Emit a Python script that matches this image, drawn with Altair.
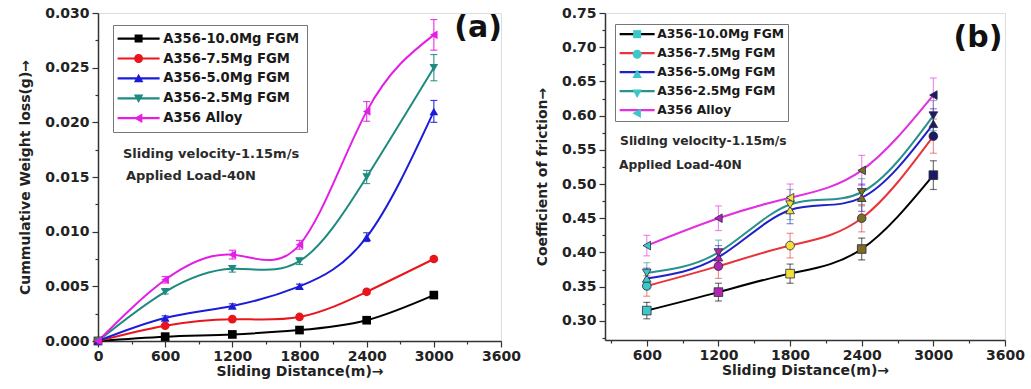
import altair as alt
import pandas as pd

# ---- data -------------------------------------------------------------
SERIES = ["A356-10.0Mg FGM", "A356-7.5Mg FGM", "A356-5.0Mg FGM", "A356-2.5Mg FGM", "A356 Alloy"]

# (a) cumulative weight loss (g) vs sliding distance (m)
dist_a = [0, 600, 1200, 1800, 2400, 3000]
loss_10 = [0, 0.0004, 0.0006, 0.0010, 0.0019, 0.0042]
loss_75 = [0, 0.0014, 0.0020, 0.0022, 0.0045, 0.0075]
loss_50 = [0, 0.0021, 0.0032, 0.0050, 0.0095, 0.0210]
loss_25 = [0, 0.0045, 0.0066, 0.0073, 0.0150, 0.0250]
loss_al = [0, 0.0056, 0.0079, 0.0088, 0.0210, 0.0280]
err_10 = [0, 0.0001, 0.0001, 0.0001, 0.0002, 0.0002]
err_75 = [0, 0.0001, 0.0002, 0.0002, 0.0002, 0.0002]
err_50 = [0, 0.0002, 0.0002, 0.0002, 0.0004, 0.0010]
err_25 = [0, 0.0002, 0.0003, 0.0003, 0.0006, 0.0012]
err_al = [0, 0.0003, 0.0004, 0.0004, 0.0009, 0.0014]

# (b) coefficient of friction vs sliding distance (m)
dist_b = [600, 1200, 1800, 2400, 3000]
cof_10 = [0.315, 0.342, 0.369, 0.405, 0.513]
cof_75 = [0.351, 0.380, 0.410, 0.450, 0.570]
cof_50 = [0.362, 0.393, 0.462, 0.480, 0.588]
cof_25 = [0.370, 0.400, 0.470, 0.488, 0.600]
cof_al = [0.410, 0.450, 0.480, 0.520, 0.630]
cerr_10 = [0.012, 0.013, 0.014, 0.016, 0.021]
cerr_75 = [0.015, 0.018, 0.018, 0.020, 0.025]
cerr_50 = [0.015, 0.017, 0.020, 0.020, 0.022]
cerr_25 = [0.015, 0.018, 0.022, 0.020, 0.022]
cerr_al = [0.015, 0.018, 0.020, 0.022, 0.025]

# ---- styling -----------------------------------------------------------
FONT = "DejaVu Sans"
COLORS_A = ["#000000", "#e8161c", "#1c1cd8", "#1f8a80", "#e41ee4"]
COLORS_B = ["#000000", "#e8343a", "#2020c8", "#2a9090", "#e030e0"]
POINT_FILLS_B = ["#3cc8c8", "#b424b4", "#f0e03c", "#7c6c24", "#1a1a66"]
SHAPES = ["square", "circle", "triangle-up", "triangle-down", "triangle-left"]

# legend glyphs as unit-space SVG paths (scaled by sqrt(size)/2)
MARK_PATHS = [
    "M-0.8,-0.8H0.8V0.8H-0.8Z",
    "M-0.9,0A0.9,0.9 0 1,1 0.9,0A0.9,0.9 0 1,1 -0.9,0Z",
    "M0,-0.95L0.95,0.75L-0.95,0.75Z",
    "M0,0.95L-0.95,-0.75L0.95,-0.75Z",
    "M-0.95,0L0.75,-0.95L0.75,0.95Z",
]


def bar_path(half):
    return f"M{-half},-0.22H{half}V0.22H{-half}Z"


LEGEND_A_PATHS = [bar_path(4.2) + m for m in MARK_PATHS]
LEGEND_B_LINES = [bar_path(3.5) for _ in MARK_PATHS]


def long_table(xs, ys_list, es_list):
    rows = []
    for name, ys, es in zip(SERIES, ys_list, es_list):
        for x, y, e in zip(xs, ys, es):
            rows.append({"series": name, "dist": x, "val": y, "lo": y - e, "hi": y + e})
    return pd.DataFrame(rows)


df_a = long_table(dist_a, [loss_10, loss_75, loss_50, loss_25, loss_al],
                  [err_10, err_75, err_50, err_25, err_al])
df_b = long_table(dist_b, [cof_10, cof_75, cof_50, cof_25, cof_al],
                  [cerr_10, cerr_75, cerr_50, cerr_25, cerr_al])

notes_a = pd.DataFrame({"dist": [223, 250], "val": [0.0171, 0.0151],
                        "txt": ["Sliding velocity-1.15m/s", "Applied Load-40N"]})
notes_b = pd.DataFrame({"dist": [376, 367], "val": [0.563, 0.528],
                        "txt": ["Sliding velocity-1.15m/s", "Applied Load-40N"]})
tag_a = pd.DataFrame({"dist": [3395], "val": [0.0286], "txt": ["(a)"]})
tag_b = pd.DataFrame({"dist": [3374], "val": [0.714], "txt": ["(b)"]})

# ---- axes --------------------------------------------------------------
AXIS_TEXT = dict(labelFont=FONT, labelFontWeight="bold", labelFontSize=14, labelColor="#222",
                 titleFont=FONT, titleFontWeight="bold", titleFontSize=14, titleColor="#222",
                 domainColor="#333", domainWidth=1.5, tickColor="#333", tickWidth=1.2,
                 grid=False, labelOverlap=False, labelFlush=False)

major_x = "datum.value % 600 === 0"
tick_len_x = {"condition": {"test": major_x, "value": 6}, "value": 3}

x_axis_a = alt.Axis(values=list(range(0, 3601, 300)), labelExpr=f"{major_x} ? datum.label : ''",
                    tickSize=tick_len_x, format="d",
                    title="Sliding Distance(m)\u2192", titlePadding=1, labelPadding=2, **AXIS_TEXT)
x_axis_b = alt.Axis(values=list(range(300, 3601, 300)), labelExpr=f"{major_x} ? datum.label : ''",
                    tickSize=tick_len_x, format="d",
                    title="Sliding Distance(m)\u2192", titlePadding=1, labelPadding=2, **AXIS_TEXT)

major_ya = "round(datum.value * 10000) % 50 === 0"
y_axis_a = alt.Axis(values=[round(i * 0.0025, 4) for i in range(13)],
                    labelExpr=f"{major_ya} ? datum.label : ''",
                    tickSize={"condition": {"test": major_ya, "value": 6}, "value": 3},
                    format=".3f", title="Cummulative Weight loss(g)\u2192",
                    titlePadding=12, labelPadding=3, **AXIS_TEXT)

major_yb = "round(datum.value * 1000) % 50 === 0"
y_axis_b = alt.Axis(values=[round(0.275 + i * 0.025, 3) for i in range(20)],
                    labelExpr=f"{major_yb} ? datum.label : ''",
                    tickSize={"condition": {"test": major_yb, "value": 6}, "value": 3},
                    format=".2f", title="Coefficient of friction\u2192",
                    titlePadding=12, labelPadding=3, **AXIS_TEXT)


def panel(df, notes, tag, x_axis, y_axis, x_dom, y_dom, colors, w, h, legend_b=False):
    X = alt.X("dist:Q", scale=alt.Scale(domain=x_dom, nice=False, zero=False), axis=x_axis)
    Y = alt.Y("val:Q", scale=alt.Scale(domain=y_dom, nice=False, zero=False), axis=y_axis)
    Ylo = alt.Y("lo:Q", scale=alt.Scale(domain=y_dom, nice=False, zero=False), axis=y_axis)
    Yhi = alt.Y("hi:Q", scale=alt.Scale(domain=y_dom, nice=False, zero=False), axis=y_axis)
    col = alt.Color("series:N", scale=alt.Scale(domain=SERIES, range=colors), legend=None)
    base = alt.Chart(df)
    eb = alt.Chart(df[df["hi"] > df["lo"]])
    err_op = 0.55 if legend_b else 0.85

    stems = eb.mark_rule(strokeWidth=1.2, opacity=err_op).encode(x=X, y=Ylo, y2="hi:Q", color=col)
    cap_lo = eb.mark_tick(orient="horizontal", size=7, thickness=1.2, opacity=err_op).encode(
        x=X, y=Ylo, color=col)
    cap_hi = eb.mark_tick(orient="horizontal", size=7, thickness=1.2, opacity=err_op).encode(
        x=X, y=Yhi, color=col)
    lines = base.mark_line(interpolate="natural", strokeWidth=2).encode(
        x=X, y=Y, color=col, detail="series:N")

    shp = alt.Shape("series:N", scale=alt.Scale(domain=SERIES, range=SHAPES), legend=None)
    if legend_b:
        pts = base.mark_point(filled=True, size=75, stroke="#2a2a3a", strokeWidth=0.8,
                              opacity=1).encode(
            x=X, y=Y, shape=shp,
            fill=alt.Fill("dist:O", scale=alt.Scale(domain=dist_b, range=POINT_FILLS_B),
                          legend=None))
    else:
        pts = base.mark_point(filled=True, size=75, opacity=1).encode(
            x=X, y=Y, shape=shp, color=col)

    leg_common = dict(orient="none", title=None, labelFont=FONT, labelFontWeight="bold",
                      labelColor="#1a1a1a", symbolSize=100, labelLimit=400, cornerRadius=0,
                      symbolOpacity=1)
    if legend_b:
        geo = dict(legendX=10, legendY=11, labelFontSize=12.3, rowPadding=6, padding=4,
                   symbolOffset=12, labelOffset=14)
        leg_lines = alt.Legend(strokeColor="#777", fillColor="white", symbolStrokeWidth=0,
                               **geo, **leg_common)
        leg_layer1 = base.mark_point(filled=True, size=100, opacity=0).encode(
            x=X, y=Y,
            color=alt.Color("series:N", scale=alt.Scale(domain=SERIES, range=colors),
                            legend=leg_lines),
            shape=alt.Shape("series:N", scale=alt.Scale(domain=SERIES, range=LEGEND_B_LINES),
                            legend=leg_lines))
        # marker glyphs drawn on top of the legend lines; this legend carries no text
        leg_marks = alt.Legend(labelExpr="''", symbolFillColor="#3cc8c8",
                               symbolStrokeColor="#22506a", symbolStrokeWidth=1,
                               **geo, **leg_common)
        leg_layer2 = base.mark_point(filled=True, size=100, opacity=0, color="#3cc8c8").encode(
            x=X, y=Y,
            shape=alt.Shape("series:N", scale=alt.Scale(domain=SERIES, range=MARK_PATHS),
                            legend=leg_marks))
        legend_layers = [leg_layer1, leg_layer2]
    else:
        leg = alt.Legend(legendX=15, legendY=12, labelFontSize=13.2, rowPadding=5.9,
                         padding=7, symbolOffset=12, labelOffset=18, symbolStrokeWidth=0,
                         strokeColor="#777", fillColor="white", **leg_common)
        leg_layer = base.mark_point(filled=True, size=100, opacity=0).encode(
            x=X, y=Y,
            color=alt.Color("series:N", scale=alt.Scale(domain=SERIES, range=colors), legend=leg),
            shape=alt.Shape("series:N", scale=alt.Scale(domain=SERIES, range=LEGEND_A_PATHS),
                            legend=leg))
        legend_layers = [leg_layer]

    note_size = 12.3 if legend_b else 13
    note_marks = alt.Chart(notes).mark_text(font=FONT, fontWeight="bold", fontSize=note_size,
                                            align="left", baseline="middle",
                                            color="#2a2a2a").encode(x=X, y=Y, text="txt:N")
    tag_mark = alt.Chart(tag).mark_text(font=FONT, fontWeight="bold", fontSize=30,
                                        align="center", baseline="middle",
                                        color="#111").encode(x=X, y=Y, text="txt:N")

    return alt.layer(stems, cap_lo, cap_hi, lines, pts, *legend_layers, note_marks, tag_mark
                     ).resolve_scale(color="independent", shape="independent",
                                     fill="independent").properties(width=w, height=h)


chart_a = panel(df_a, notes_a, tag_a, x_axis_a, y_axis_a, [0, 3600], [0, 0.030],
                COLORS_A, 403, 328)
chart_b = panel(df_b, notes_b, tag_b, x_axis_b, y_axis_b, [250, 3600], [0.272, 0.75],
                COLORS_B, 400, 327, legend_b=True)

chart = alt.hconcat(chart_a, chart_b, spacing=13).properties(
    padding={"left": 18, "top": 5, "right": 5, "bottom": 2}
).configure_view(stroke="#333", strokeWidth=1.5).configure(background="white")

chart.save("out.html", embed_options={"renderer": "svg", "actions": False})
